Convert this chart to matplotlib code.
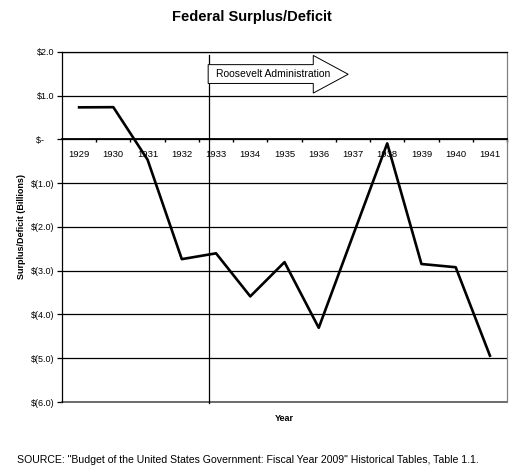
import matplotlib
matplotlib.use("Agg")
import matplotlib.pyplot as plt
from matplotlib.patches import Polygon

plt.rcParams['font.family'] = ['Liberation Sans', 'DejaVu Sans']

years = ['1929', '1930', '1931', '1932', '1933', '1934', '1935',
         '1936', '1937', '1938', '1939', '1940', '1941']
surplus = [0.734, 0.738, -0.462, -2.735, -2.602, -3.586, -2.803,
           -4.304, -2.193, -0.089, -2.846, -2.920, -4.941]
y_ticks = [2, 1, 0, -1, -2, -3, -4, -5, -6]
y_labels = ['$2.0', '$1.0', '$-    ', '$(1.0)', '$(2.0)', '$(3.0)',
            '$(4.0)', '$(5.0)', '$(6.0)']

fig = plt.figure(figsize=(5.23, 4.68), dpi=100)
ax = fig.add_axes([0.1185, 0.141, 0.851, 0.748])

x = list(range(len(years)))

# gridlines
for v in y_ticks:
    ax.axhline(v, color='black', lw=0.9, zorder=1)

ax.plot(x, surplus, color='black', lw=1.9, zorder=3)

ax.set_xlim(-0.5, len(years) - 0.5)
ax.set_ylim(-6, 2)

ax.set_yticks(y_ticks)
ax.set_yticklabels(y_labels, fontsize=6.5)
ax.tick_params(axis='y', direction='out', length=3.5, width=0.9, pad=2)

# category axis crosses at zero
ax.spines['bottom'].set_position(('data', 0))
ax.set_xticks(x)
ax.set_xticklabels(years, fontsize=6.8)
ax.set_xticks([i - 0.5 for i in range(1, len(years) + 1)], minor=True)
ax.tick_params(axis='x', which='major', length=0, pad=7.5)
ax.tick_params(axis='x', which='minor', direction='out', length=2.5, width=1.0)

ax.spines['left'].set_color('black')
ax.spines['top'].set_color('black')
ax.spines['right'].set_color('#808080')
for s in ax.spines.values():
    s.set_linewidth(0.9)
ax.spines['bottom'].set_color('black')
ax.spines['bottom'].set_linewidth(1.3)
ax.plot([-0.5, 12.5], [-6, -6], color='#555555', lw=1.2, zorder=2, clip_on=False)

# Roosevelt marker line
ax.plot([3.8, 3.8], [1.93, -6.03], color='black', lw=0.9, zorder=2, clip_on=False)

# block arrow
arrow = Polygon([(3.77, 1.71), (6.84, 1.71), (6.84, 1.92), (7.86, 1.49),
                 (6.84, 1.06), (6.84, 1.28), (3.77, 1.28)],
                closed=True, facecolor='white', edgecolor='black', lw=0.7, zorder=4)
ax.add_patch(arrow)
ax.text(4.0, 1.49, 'Roosevelt Administration', fontsize=7.5, va='center',
        ha='left', zorder=5)

fig.text(0.482, 0.963, 'Federal Surplus/Deficit', fontsize=10.5,
         fontweight='bold', ha='center', va='center')
fig.text(0.042, 0.517, 'Surplus/Deficit (Billions)', fontsize=6.5,
         fontweight='bold', rotation=90, ha='center', va='center')
fig.text(0.543, 0.105, 'Year', fontsize=6.5, fontweight='bold',
         ha='center', va='center')
fig.text(0.033, 0.017, 'SOURCE: "Budget of the United States Government: Fiscal Year 2009" '
         'Historical Tables, Table 1.1.', fontsize=7.6, ha='left', va='center')

fig.savefig('out.png', dpi=100)
